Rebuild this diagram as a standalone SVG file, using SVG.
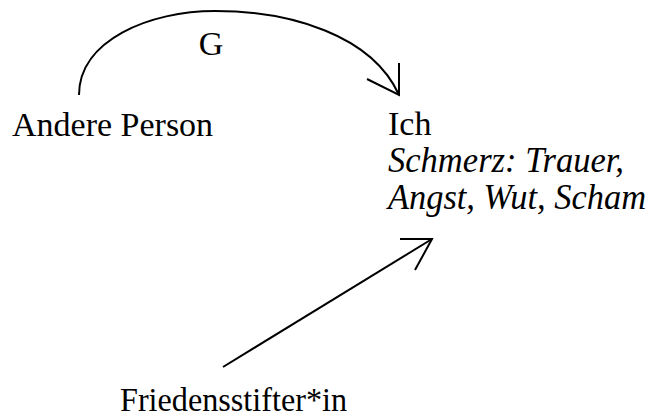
<svg xmlns="http://www.w3.org/2000/svg" width="650" height="417" viewBox="0 0 650 417">
<style>
.t{font-family:'Liberation Serif',serif;font-size:34px;fill:#000}
.it{font-family:'Liberation Serif',serif;font-style:italic;font-size:35px;fill:#000}
.c{fill:none;stroke:#000;stroke-width:2}
</style>
<rect width="650" height="417" fill="#fff"/>
<g id="connectors">
<path class="c" d="M79,95 C79,40 150,11 215,11 C290,11 372,35 399,95"/>
<path class="c" d="M399,63 L399,95 L367,79"/>
<path class="c" d="M223,367 L432,239"/>
<path class="c" d="M400,239 L432,239 L415,270"/>
<text class="t" x="211" y="55" text-anchor="middle">G</text>
</g>
<g id="andere"><text class="t" x="12" y="136">Andere Person</text></g>
<g id="ich">
<text class="t" x="388" y="135">Ich</text>
<text class="it" x="388" y="172" textLength="236" lengthAdjust="spacingAndGlyphs">Schmerz: Trauer,</text>
<text class="it" x="388" y="209" textLength="258" lengthAdjust="spacingAndGlyphs">Angst, Wut, Scham</text>
</g>
<g id="friedensstifter"><text class="t" x="120" y="411" textLength="227" lengthAdjust="spacingAndGlyphs">Friedensstifter*in</text></g>
</svg>
